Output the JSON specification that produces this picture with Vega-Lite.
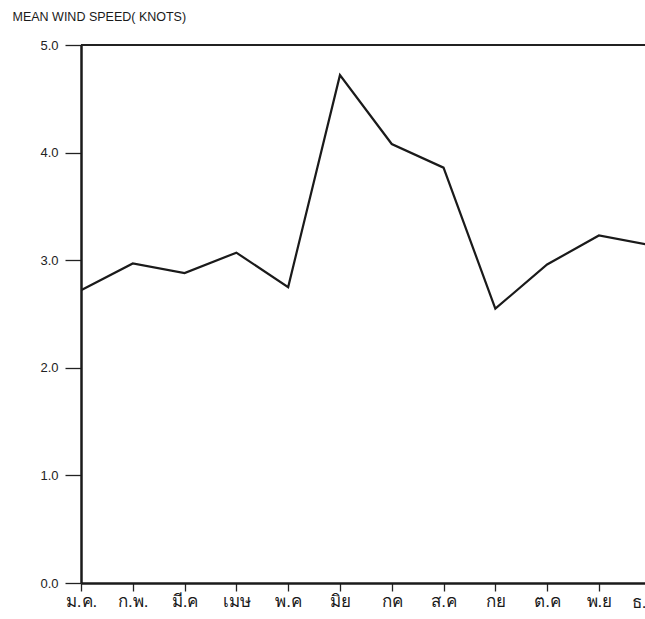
{
  "$schema": "https://vega.github.io/schema/vega-lite/v6.json",
  "autosize": {"type": "none"},
  "padding": {"left": 81, "top": 45, "right": 0, "bottom": 36},
  "width": 564,
  "height": 538,
  "background": "white",
  "config": {"view": {"stroke": null}, "font": "Liberation Sans"},
  "data": {
    "values": [
      {"month": 1, "label": "ม.ค.", "speed": 2.72},
      {"month": 2, "label": "ก.พ.", "speed": 2.97},
      {"month": 3, "label": "มี.ค", "speed": 2.88},
      {"month": 4, "label": "เมษ", "speed": 3.07},
      {"month": 5, "label": "พ.ค", "speed": 2.75},
      {"month": 6, "label": "มิย", "speed": 4.72},
      {"month": 7, "label": "กค", "speed": 4.08},
      {"month": 8, "label": "ส.ค", "speed": 3.86},
      {"month": 9, "label": "กย", "speed": 2.55},
      {"month": 10, "label": "ต.ค", "speed": 2.96},
      {"month": 11, "label": "พ.ย", "speed": 3.23},
      {"month": 12, "label": "ธ.ค", "speed": 3.14}
    ]
  },
  "layer": [
    {
      "mark": {"type": "rule", "color": "#222", "strokeWidth": 1.5},
      "encoding": {"y": {"datum": 5, "type": "quantitative"}}
    },
    {
      "transform": [{"filter": "datum.month == 12"}],
      "mark": {"type": "text", "clip": false, "fontSize": 17, "color": "#1a1a1a", "baseline": "top", "align": "left", "dx": -19, "dy": 12},
      "encoding": {
        "x": {"field": "month", "type": "quantitative"},
        "y": {"datum": 0, "type": "quantitative"},
        "text": {"field": "label"}
      }
    },
    {
      "mark": {"type": "line", "color": "#1a1a1a", "strokeWidth": 2.2, "clip": true},
      "encoding": {
        "x": {
          "field": "month",
          "type": "quantitative",
          "scale": {"domain": [1, 11.89], "nice": false, "zero": false},
          "axis": {
            "title": null,
            "values": [1,2,3,4,5,6,7,8,9,10,11,12],
            "labelExpr": "['','ม.ค.','ก.พ.','มี.ค','เมษ','พ.ค','มิย','กค','ส.ค','กย','ต.ค','พ.ย','ธ.ค'][datum.value]",
            "labelFlush": false,
            "labelOverlap": false,
            "labelBound": false,
            "labelFontSize": 17,
            "labelColor": "#1a1a1a",
            "labelPadding": 2,
            "labelDx": 5,
            "tickSize": 8,
            "tickColor": "#222",
            "tickWidth": 1.3,
            "domainColor": "#1a1a1a",
            "domainWidth": 2.5,
            "grid": false
          }
        },
        "y": {
          "field": "speed",
          "type": "quantitative",
          "scale": {"domain": [0, 5], "nice": false},
          "axis": {
            "title": "MEAN WIND SPEED( KNOTS)",
            "titleAngle": 0,
            "titleAlign": "left",
            "titleBaseline": "middle",
            "titleX": -69,
            "titleY": -29,
            "titleFontSize": 12.5,
            "titleFontWeight": "normal",
            "titleColor": "#1a1a1a",
            "values": [0, 1, 2, 3, 4, 5],
            "format": ".1f",
            "labelFontSize": 13,
            "labelColor": "#222",
            "labelPadding": 7,
            "tickSize": 16,
            "tickColor": "#222",
            "tickWidth": 1.3,
            "domainColor": "#1a1a1a",
            "domainWidth": 2.5,
            "grid": false
          }
        }
      }
    }
  ]
}
